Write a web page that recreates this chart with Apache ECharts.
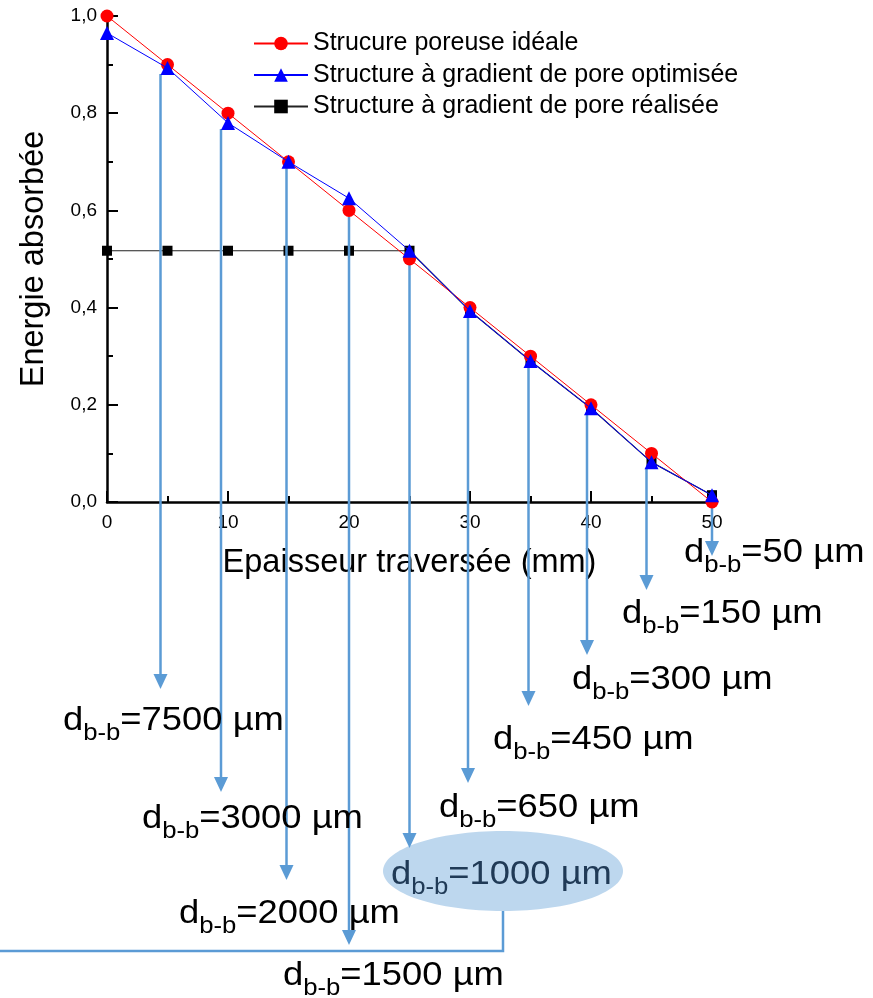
<!DOCTYPE html>
<html>
<head>
<meta charset="utf-8">
<script src="https://cdn.jsdelivr.net/npm/echarts@6/dist/echarts.min.js"></script>
<style>
  html, body { margin: 0; padding: 0; background: #fff; }
  #chart { width: 873px; height: 998px; }
</style>
</head>
<body>
<div id="chart"></div>
<script>
// Thickness crossed (mm) and absorbed energy for the three structures
const thickness = [0, 5, 10, 15, 20, 25, 30, 35, 40, 45, 50];
const idealPorous = [1.0, 0.9, 0.8, 0.7, 0.6, 0.5, 0.4, 0.3, 0.2, 0.1, 0.0];
const optimizedGradient = [0.965, 0.893, 0.78, 0.70, 0.625, 0.517, 0.393, 0.29, 0.193, 0.082, 0.014];
const builtGradient = [0.517, 0.517, 0.517, 0.517, 0.517, 0.517, 0.393, 0.29, 0.193, 0.082, 0.014];

const seriesNames = [
  'Strucure poreuse idéale',
  'Structure à gradient de pore optimisée',
  'Structure à gradient de pore réalisée'
];

// Strut-to-strut distance reached at each depth
const spacingDepth = [5, 10, 15, 20, 25, 30, 35, 40, 45, 50];
const spacingValue = ['7500', '3000', '2000', '1500', '1000', '650', '450', '300', '150', '50'];

// Callout placement (screen pixels): arrow shift, arrow tip, label anchor
const calloutLayout = [
  { dx: -7, tipY: 689, lx: 63,  ly: 721 },
  { dx: -7, tipY: 792, lx: 142, ly: 819 },
  { dx: -2, tipY: 880, lx: 179, ly: 914 },
  { dx: 0,  tipY: 945, lx: 283, ly: 976 },
  { dx: 0,  tipY: 848, lx: 391, ly: 875, bubble: true },
  { dx: -2, tipY: 783, lx: 439, ly: 808 },
  { dx: -2, tipY: 706, lx: 493, ly: 740 },
  { dx: -4, tipY: 655, lx: 572, ly: 680 },
  { dx: -5, tipY: 590, lx: 622, ly: 614 },
  { dx: 0,  tipY: 556, lx: 684, ly: 553 }
];

const FONT = '"Liberation Sans", Arial, Helvetica, sans-serif';
const ARROW = '#5b9bd5';

const chart = echarts.init(document.getElementById('chart'), null, { renderer: 'canvas' });

const pairs = arr => thickness.map((t, i) => [t, arr[i]]);

chart.setOption({
  animation: false,
  backgroundColor: '#ffffff',
  textStyle: { fontFamily: FONT },
  grid: { left: 107, right: 161, top: 16, bottom: 496, containLabel: false },
  legend: {
    orient: 'vertical',
    left: 248,
    top: 26,
    itemWidth: 54,
    itemHeight: 17,
    itemGap: 6.5,
    textStyle: { fontSize: 25, color: '#000', fontFamily: FONT, lineHeight: 24 },
    data: seriesNames
  },
  xAxis: {
    type: 'value',
    min: 0, max: 50, interval: 10,
    name: 'Epaisseur traversée (mm)',
    nameLocation: 'middle',
    nameGap: 45,
    nameTextStyle: { fontSize: 32.5, color: '#000', fontFamily: FONT },
    axisLine: { onZero: false, lineStyle: { color: '#000', width: 2.5 } },
    axisTick: { inside: true, length: 11, lineStyle: { color: '#000', width: 2 } },
    minorTick: { show: true, splitNumber: 2, length: 6, lineStyle: { color: '#000', width: 2 } },
    axisLabel: { fontSize: 19, color: '#000', margin: 11, fontFamily: FONT },
    splitLine: { show: false }
  },
  yAxis: {
    type: 'value',
    min: 0, max: 1, interval: 0.2,
    name: 'Energie absorbée',
    nameLocation: 'middle',
    nameGap: 56,
    nameRotate: 90,
    nameTextStyle: { fontSize: 32.5, color: '#000', fontFamily: FONT },
    axisLine: { onZero: false, lineStyle: { color: '#000', width: 2.5 } },
    axisTick: { inside: true, length: 11, lineStyle: { color: '#000', width: 2 } },
    minorTick: { show: true, splitNumber: 2, length: 6, lineStyle: { color: '#000', width: 2 } },
    axisLabel: {
      fontSize: 19, color: '#000', margin: 10, fontFamily: FONT,
      formatter: v => v.toFixed(1).replace('.', ',')
    },
    splitLine: { show: false }
  },
  series: [
    {
      name: seriesNames[0], type: 'line', z: 3, clip: false,
      data: pairs(idealPorous),
      symbol: 'circle', symbolSize: 13,
      itemStyle: { color: '#ff0000' },
      lineStyle: { color: '#ff0000', width: 1 }
    },
    {
      name: seriesNames[1], type: 'line', z: 4, clip: false,
      data: pairs(optimizedGradient),
      symbol: 'triangle', symbolSize: 14,
      itemStyle: { color: '#0000ff' },
      lineStyle: { color: '#0000ff', width: 1 }
    },
    {
      name: seriesNames[2], type: 'line', z: 1, clip: false,
      data: pairs(builtGradient),
      symbol: 'rect', symbolSize: 10,
      itemStyle: { color: '#000000' },
      lineStyle: { color: '#222222', width: 1.2 }
    }
  ]
});

// Text width helper for composing subscripted labels
const measureCtx = document.createElement('canvas').getContext('2d');
function textWidth(str, size) {
  measureCtx.font = size + 'px ' + FONT;
  return measureCtx.measureText(str).width;
}

const MAIN = 34, SUB = 24, SUB_DY = 12.5, STRETCH = 1.07;

function spacingLabel(value, x, y, color) {
  const wd = textWidth('d', MAIN);
  const wb = textWidth('b-b', SUB);
  const common = { fill: color, fontFamily: FONT, align: 'left', verticalAlign: 'middle' };
  return {
    type: 'group', x: x, y: y, scaleX: STRETCH, z: 8,
    children: [
      { type: 'text', z: 8, style: Object.assign({ text: 'd', fontSize: MAIN, x: 0, y: 0 }, common) },
      { type: 'text', z: 8, style: Object.assign({ text: 'b-b', fontSize: SUB, x: wd, y: SUB_DY }, common) },
      { type: 'text', z: 8, style: Object.assign({ text: '=' + value + ' µm', fontSize: MAIN, x: wd + wb, y: 0 }, common) }
    ]
  };
}

const graphics = [];
spacingDepth.forEach((depth, i) => {
  const lay = calloutLayout[i];
  const idx = thickness.indexOf(depth);
  const lowest = Math.min(idealPorous[idx], optimizedGradient[idx]);
  const p = chart.convertToPixel({ gridIndex: 0 }, [depth, lowest]);
  const x = p[0] + lay.dx;
  const y0 = p[1] + 6;
  const head = 15, half = 7;

  if (lay.bubble) {
    graphics.push({
      type: 'ellipse', z: 6,
      shape: { cx: 503, cy: 871, rx: 120, ry: 40 },
      style: { fill: '#bdd7ee' }
    });
    graphics.push({
      type: 'polyline', z: 6,
      shape: { points: [[503, 911], [503, 951], [0, 951]] },
      style: { stroke: ARROW, lineWidth: 2.5, fill: null }
    });
  }

  graphics.push({
    type: 'line', z: 2,
    shape: { x1: x, y1: y0, x2: x, y2: lay.tipY - head + 1 },
    style: { stroke: ARROW, lineWidth: 2.5 }
  });
  graphics.push({
    type: 'polygon', z: 7,
    shape: { points: [[x - half, lay.tipY - head], [x + half, lay.tipY - head], [x, lay.tipY]] },
    style: { fill: ARROW }
  });
  graphics.push(spacingLabel(spacingValue[i], lay.lx, lay.ly, lay.bubble ? '#203a56' : '#000000'));
});

chart.setOption({ graphic: { elements: graphics } });
</script>
</body>
</html>
